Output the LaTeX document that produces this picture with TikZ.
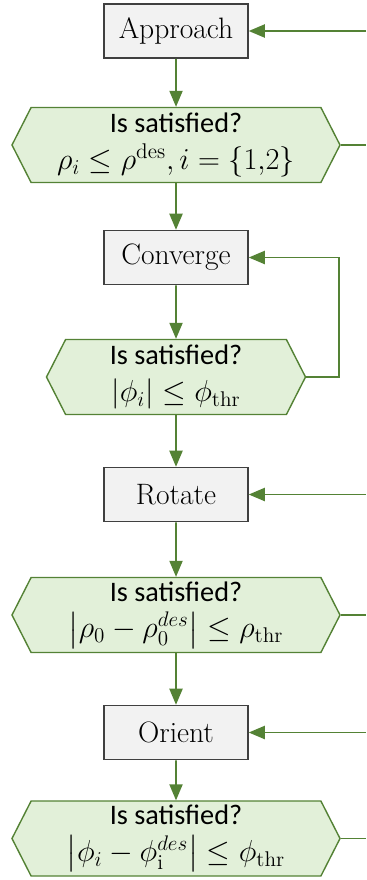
\documentclass[tikz,border=0pt]{standalone}
\usepackage{amsmath}
\usepackage{amssymb}
\usepackage{fontspec}
\newfontfamily\calibri[Scale=0.93]{Carlito}
\usepackage{tikz}
\usetikzlibrary{shapes.symbols, arrows}
\definecolor{linegreen}{HTML}{548235}
\definecolor{hexfill}{HTML}{E2F0D9}
\definecolor{boxfill}{HTML}{F2F2F2}
\definecolor{boxdraw}{HTML}{404040}
\tikzstyle{process} = [rectangle, minimum width=2.88cm, minimum height=1.08cm, text centered, draw=boxdraw, line width=0.9pt, fill=boxfill, font=\fontsize{16.8}{19}\selectfont]
\tikzstyle{decision} = [signal, signal to=west and east, signal pointer angle=126, minimum width=6.56cm, minimum height=1.5cm, align=center, inner sep=0pt, draw=linegreen, line width=0.8pt, fill=hexfill, font=\fontsize{17.3}{21}\selectfont]
\tikzstyle{arrow} = [line width=1.1pt, draw=linegreen, ->, >=triangle 45]
\tikzstyle{line} = [line width=1.1pt, draw=linegreen]

\begin{document}
\begin{tikzpicture}[node distance=2.35cm]

\useasboundingbox (-3.52,0.62) rectangle (3.8,-16.98);

\node (app) [process] {Approach};
\node (dec1) [decision, below of=app, yshift=0.07cm] {{\calibri Is satisfied?}\\ $\rho_i \leq \rho^{\mathrm{des}}, i=\{1{,}2\}$};
\node (conv) [process, below of=dec1, yshift=0.1cm] {Converge};
\node (dec2) [decision, below of=conv, yshift=-0.04cm, minimum width=5.18cm] {{\calibri Is satisfied?}\\ $|\phi_i| \leq \phi_{\mathrm{thr}}$};
\node (rot) [process, below of=dec2] {Rotate};
\node (dec3) [decision, below of=rot, yshift=-0.06cm] {{\calibri Is satisfied?}\\ $\left|\rho_0-\rho_0^{des}\right| \leq \rho_{\mathrm{thr}}$};
\node (ori) [process, below of=dec3] {Orient};
\node (dec4) [decision, below of=ori, yshift=0.23cm] {{\calibri Is satisfied?}\\ $\left|\phi_i-\phi_{\mathrm{i}}^{des}\right| \leq \phi_{\mathrm{thr}}$};

\coordinate (edge) at (3.8,0);
\coordinate (in1) at (app -| edge);
\coordinate (out1) at (dec1 -| edge);
\coordinate (in3) at (rot -| edge);
\coordinate (out3) at (dec3 -| edge);
\coordinate (in4) at (ori -| edge);
\coordinate (out4) at (dec4 -| edge);

\draw [arrow] (app) -- (dec1);
\draw [arrow] (dec1) -- (conv);
\draw [arrow] (conv) -- (dec2);
\draw [arrow] (dec2) -- (rot);
\draw [arrow] (rot) -- (dec3);
\draw [arrow] (dec3) -- (ori);
\draw [arrow] (ori) -- (dec4);

\draw [arrow] (dec2.east) -- ++(0.66,0) |- (conv);
\draw [arrow] (in1) -- (app);
\draw [line] (dec1.east) -- (out1);
\draw [arrow] (in3) -- (rot);
\draw [line] (dec3.east) -- (out3);
\draw [arrow] (in4) -- (ori);
\draw [line] (dec4.east) -- (out4);

\end{tikzpicture}
\end{document}
